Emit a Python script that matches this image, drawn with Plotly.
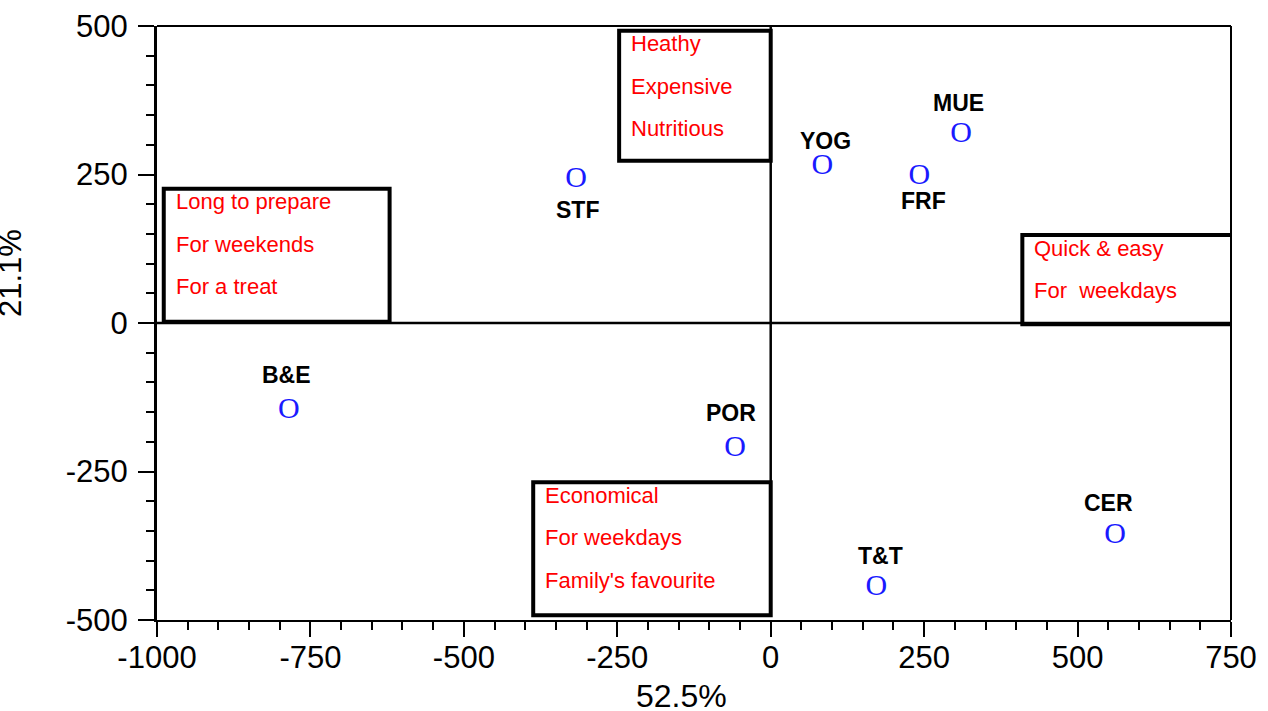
import plotly.graph_objects as go

labels = ["STF", "YOG", "FRF", "MUE", "B&E", "POR", "CER", "T&T"]
xs = [-317, 84, 242, 310, -785, -58, 561, 172]
ys = [242, 264, 246, 318, -148, -212, -357, -446]

# label placement offsets (pixels) relative to each marker: (dx, dy up)
label_shift = [(1, -31), (3, 25), (4, -24), (-2, 31), (-2, 36), (-4, 36), (-7, 32), (4, 32)]

boxes = [
    {"x0": -247, "x1": 0, "y0": 273, "y1": 492, "lines": ["Heathy", "Expensive", "Nutritious"]},
    {"x0": -989, "x1": -621, "y0": 2, "y1": 226, "lines": ["Long to prepare", "For weekends", "For a treat"]},
    {"x0": 410, "x1": 752, "y0": -2, "y1": 148, "lines": ["Quick & easy", "For  weekdays"]},
    {"x0": -387, "x1": 0, "y0": -492, "y1": -268, "lines": ["Economical", "For weekdays", "Family's favourite"]},
]

x_ticks = [-1000, -750, -500, -250, 0, 250, 500, 750]
y_ticks = [-500, -250, 0, 250, 500]
x_title = "52.5%"
y_title = "21.1%"

FONT = "Liberation Sans"

fig = go.Figure()
fig.add_trace(go.Scatter(
    x=xs, y=ys, mode="text", text=["O"] * len(xs),
    textfont=dict(family="Liberation Serif", size=30, color="#1a1aff"),
    textposition="middle center", hoverinfo="skip", showlegend=False,
))

annotations = []
for lab, x, y, (dx, dy) in zip(labels, xs, ys, label_shift):
    annotations.append(dict(
        x=x, y=y, xref="x", yref="y", text=f"<b>{lab}</b>", showarrow=False,
        font=dict(family=FONT, size=23, color="black"),
        xshift=dx, yshift=dy,
    ))

shapes = []
for b in boxes:
    shapes.append(dict(type="rect", xref="x", yref="y", x0=b["x0"], x1=b["x1"], y0=b["y0"], y1=b["y1"],
                       line=dict(color="black", width=4), fillcolor="rgba(0,0,0,0)", layer="above"))
    for i, t in enumerate(b["lines"]):
        annotations.append(dict(
            x=b["x0"], y=b["y1"], xref="x", yref="y", text=t, showarrow=False,
            xanchor="left", yanchor="middle", xshift=10, yshift=-13 - 42.5 * i,
            font=dict(family=FONT, size=22, color="red"),
        ))

# zero lines
shapes.append(dict(type="line", xref="x", yref="y", x0=0, x1=0, y0=-492, y1=510,
                   line=dict(color="black", width=2.5), layer="below"))
shapes.append(dict(type="line", xref="x", yref="y", x0=-1000, x1=750, y0=0, y1=0,
                   line=dict(color="black", width=2.5), layer="below"))
# frame top and right
shapes.append(dict(type="line", xref="paper", yref="paper", x0=0, x1=1, y0=1, y1=1,
                   line=dict(color="black", width=2)))
shapes.append(dict(type="line", xref="paper", yref="paper", x0=1, x1=1, y0=0, y1=1,
                   line=dict(color="black", width=2)))

# axis titles as annotations
annotations.append(dict(
    x=-0.1369, y=0.584, xref="paper", yref="paper", text=y_title, showarrow=False,
    textangle=-90, font=dict(family=FONT, size=31, color="black"),
    xanchor="center", yanchor="middle",
))
annotations.append(dict(
    x=0.4884, y=-0.1279, xref="paper", yref="paper", text=x_title, showarrow=False,
    font=dict(family=FONT, size=32, color="black"),
    xanchor="center", yanchor="middle",
))

fig.update_layout(
    width=1268, height=711,
    margin=dict(l=157, r=37, t=26, b=91, autoexpand=False),
    paper_bgcolor="white", plot_bgcolor="white",
    shapes=shapes, annotations=annotations,
    xaxis=dict(
        range=[-1000, 750], tickvals=x_ticks, ticktext=[str(v) for v in x_ticks],
        automargin=False,
        showgrid=False, zeroline=False, showline=True, linecolor="black", linewidth=2,
        ticks="outside", ticklen=15, tickwidth=1.5, tickcolor="black",
        minor=dict(dtick=50, ticks="outside", ticklen=8, tickwidth=1.5, tickcolor="black", showgrid=False),
        tickfont=dict(family=FONT, size=31, color="black"),
        ticklabelstandoff=-6,
    ),
    yaxis=dict(
        range=[-500, 500], tickvals=y_ticks, ticktext=[str(v) for v in y_ticks],
        automargin=False,
        showgrid=False, zeroline=False, showline=True, linecolor="black", linewidth=3,
        ticks="outside", ticklen=16, tickwidth=1.5, tickcolor="black",
        minor=dict(dtick=50, ticks="outside", ticklen=8, tickwidth=1.5, tickcolor="black", showgrid=False),
        tickfont=dict(family=FONT, size=31, color="black"),
        ticklabelstandoff=4,
    ),
)

fig.write_html(
    "out.html",
    config={"displayModeBar": False},
    post_script=(
        "document.documentElement.style.margin='0';"
        "document.body.style.margin='0';"
        "document.documentElement.style.overflow='hidden';"
        "document.body.style.overflow='hidden';"
    ),
)
